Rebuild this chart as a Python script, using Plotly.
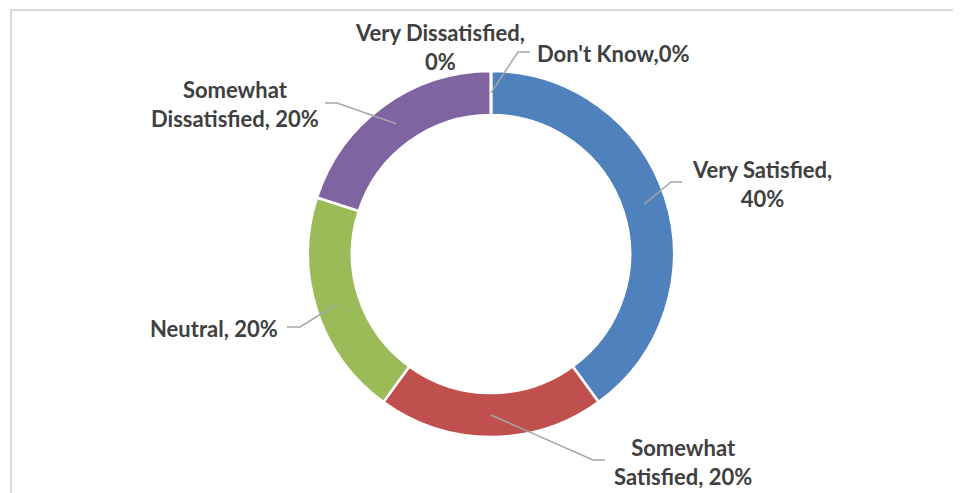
import math
import plotly.graph_objects as go

# ---- data ----
categories = ["Very Satisfied", "Somewhat Satisfied", "Neutral",
              "Somewhat Dissatisfied", "Very Dissatisfied", "Don't Know"]
percents = [40, 20, 20, 20, 0, 0]
label_texts = ["Very Satisfied,<br>40%", "Somewhat<br>Satisfied, 20%", "Neutral, 20%",
               "Somewhat<br>Dissatisfied, 20%", "Very Dissatisfied,<br>0%", "Don't Know,0%"]
colors = ["#4F81BD", "#C0504D", "#9BBB59", "#8064A2", "#4BACC6", "#F79646"]

# ---- layout (window pixel geometry; page body has an 8px margin) ----
OFF = 8
W, H = 961 - OFF, 493 - OFF
CX, CY, R_OUT = 491, 254, 183
HOLE = 0.76
# label centers and leader elbows / ends (window pixels)
label_pos = [(762, 184), (683, 462), (214, 328), (235, 104), (440, 47), (613, 53)]
leader_elbow = [(671, 182), (593, 460), (300, 327), (337, 103), None, (518, 52)]
leader_end = [(682, 182), (605, 460), (287, 327), (325, 103), None, (530, 52)]


def px(x):
    return (x - OFF) / W


def py(y):
    return 1 - (y - OFF) / H


fig = go.Figure(go.Pie(
    labels=categories, values=percents, sort=False, direction="clockwise",
    rotation=0, hole=HOLE, textinfo="none", hoverinfo="label+percent",
    marker=dict(colors=colors, line=dict(color="white", width=2.5)),
    domain=dict(x=[px(CX - R_OUT), px(CX + R_OUT)], y=[py(CY + R_OUT), py(CY - R_OUT)]),
    showlegend=False,
))

shapes = []
annotations = []
total = sum(percents)
cum = 0
r_mid = R_OUT * (1 + HOLE) / 2
for i, v in enumerate(percents):
    mid = (cum + v / 2) / total * 2 * math.pi
    cum += v
    sx = CX + r_mid * math.sin(mid)
    sy = CY - r_mid * math.cos(mid)
    if leader_elbow[i] is not None:
        ex, ey = leader_elbow[i]
        tx, ty = leader_end[i]
        shapes.append(dict(
            type="path", xref="paper", yref="paper",
            path=f"M {px(sx)} {py(sy)} L {px(ex)} {py(ey)} L {px(tx)} {py(ty)}",
            line=dict(color="#A6A6A6", width=1.5)))
    lx, ly = label_pos[i]
    annotations.append(dict(
        x=px(lx), y=py(ly), xref="paper", yref="paper", showarrow=False,
        text=f"<b>{label_texts[i]}</b>", align="center",
        xanchor="center", yanchor="middle",
        font=dict(family="Lato, 'Open Sans', sans-serif", size=22, color="#404040")))

# outer chart frame
shapes.append(dict(type="rect", xref="paper", yref="paper",
                   x0=px(11), y0=py(505), x1=px(975), y1=py(10),
                   line=dict(color="#D9D9D9", width=2), fillcolor="rgba(0,0,0,0)"))

fig.update_layout(
    width=W, height=H, margin=dict(l=0, r=0, t=0, b=0),
    paper_bgcolor="white", plot_bgcolor="white",
    shapes=shapes, annotations=annotations,
)

fig.write_html("out.html")
